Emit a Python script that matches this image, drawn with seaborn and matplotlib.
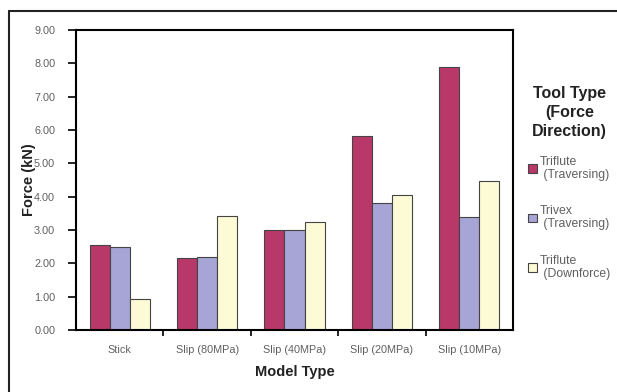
import matplotlib
matplotlib.use("Agg")
import matplotlib.pyplot as plt
import seaborn as sns
import pandas as pd
from matplotlib.lines import Line2D
from matplotlib.ticker import FormatStrFormatter, FixedLocator

categories = ["Stick", "Slip (80MPa)", "Slip (40MPa)", "Slip (20MPa)", "Slip (10MPa)"]
series_names = ["Triflute\n(Traversing)", "Trivex\n(Traversing)", "Triflute\n(Downforce)"]
triflute_trav = [2.55, 2.15, 3.00, 5.82, 7.88]
trivex_trav = [2.49, 2.19, 3.00, 3.81, 3.40]
triflute_down = [0.93, 3.42, 3.24, 4.05, 4.48]
colors = ["#b9386a", "#a7a5d6", "#fdfad6"]

rows = []
for name, vals in zip(series_names, [triflute_trav, trivex_trav, triflute_down]):
    for c, v in zip(categories, vals):
        rows.append({"Model Type": c, "Tool": name, "Force": v})
df = pd.DataFrame(rows)

sns.set_style("white")
plt.rcParams['font.family'] = ['Liberation Sans', 'DejaVu Sans']

fig = plt.figure(figsize=(6.17, 3.92), dpi=100)
ax = fig.add_axes([76/617, 62/392, (513-76)/617, 300/392])

sns.barplot(data=df, x="Model Type", y="Force", hue="Tool", order=categories,
            hue_order=series_names, palette=colors, width=0.69, gap=0,
            edgecolor="#444444", linewidth=0.8, ax=ax, saturation=1)

ax.set_ylim(0, 9)
ax.set_xlim(-0.5, 4.5)
ax.set_yticks([i for i in range(10)])
ax.yaxis.set_major_formatter(FormatStrFormatter("%.2f"))
for s in ax.spines.values():
    s.set_visible(True)
    s.set_color("black")
    s.set_linewidth(1.5)

ax.tick_params(axis="y", direction="out", length=6, width=1.2, color="black",
               labelsize=7.8, labelcolor="#606060", left=True, pad=9)
ax.tick_params(axis="x", which="major", length=0, labelsize=7.8, labelcolor="#606060", pad=11)
ax.xaxis.set_minor_locator(FixedLocator([0.5, 1.5, 2.5, 3.5]))
ax.tick_params(axis="x", which="minor", direction="out", length=4, width=1.2, color="black", bottom=True)

ax.set_xlabel("Model Type", fontsize=10.5, fontweight="bold", color="#222222", labelpad=7)
ax.set_ylabel("Force (kN)", fontsize=10.5, fontweight="bold", color="#222222")
ax.yaxis.set_label_coords((36 - 76) / 437, 0.5)

leg = ax.legend(title="Tool Type\n(Force\nDirection)", loc="upper left",
                bbox_to_anchor=(528/617, 1 - 86/392), bbox_transform=fig.transFigure,
                frameon=False, fontsize=8.8, borderpad=0, borderaxespad=0,
                labelspacing=2.0, handlelength=0.7, handleheight=0.7,
                handletextpad=0.3, alignment="center")
title = leg.get_title()
title.set_fontsize(11.5)
title.set_fontweight("bold")
title.set_color("#222222")
title.set_multialignment("center")
title.set_linespacing(1.35)
for t in leg.get_texts():
    t.set_color("#606060")
    t.set_linespacing(1.1)
    t.set_text(t.get_text().replace("\n", "\n "))
leg._legend_box.sep = 12

fig.add_artist(Line2D([9/617, 9/617], [0, 1 - 11/392], color="#222222", linewidth=1.5))
fig.add_artist(Line2D([9/617, 1], [1 - 11/392, 1 - 11/392], color="#222222", linewidth=1.5))

fig.savefig("out.png", dpi=100)
